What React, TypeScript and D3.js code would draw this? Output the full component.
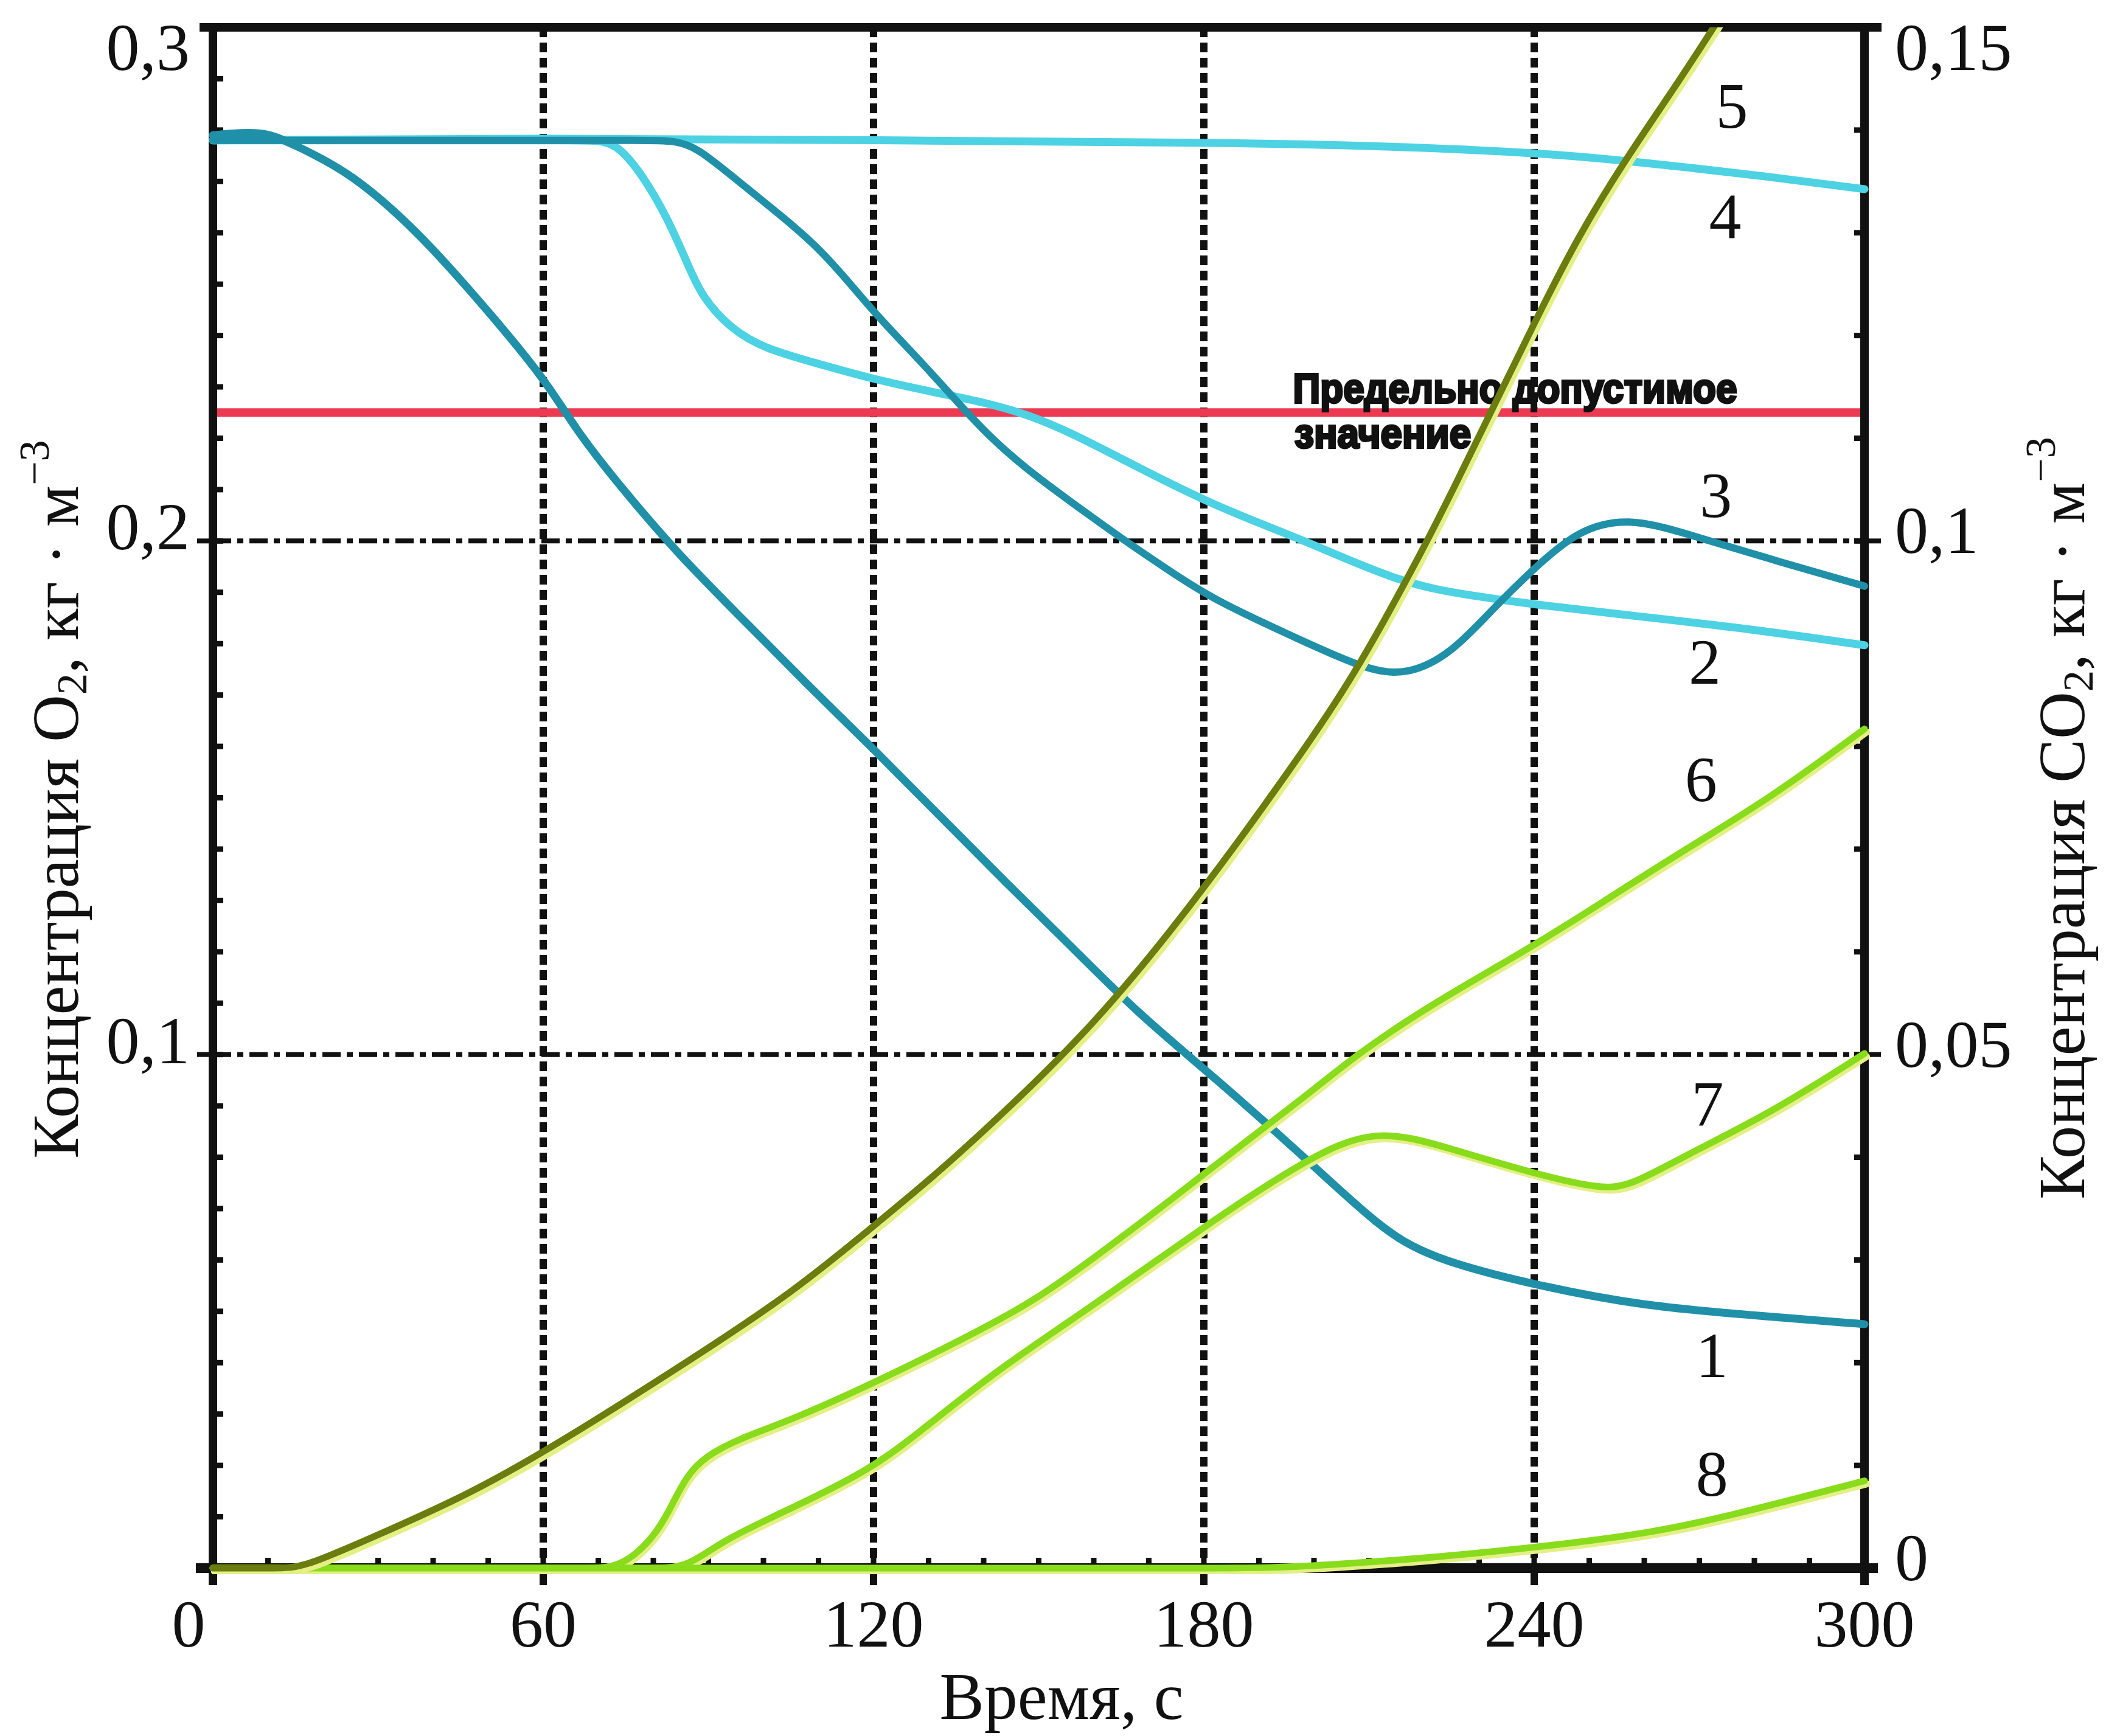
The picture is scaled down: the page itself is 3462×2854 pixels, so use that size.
import React, { useEffect } from 'react';
import * as d3 from 'd3';

const W = 3462;
const H = 2854;

// Time axis ticks (s)
const xMajorTicks = [0, 60, 120, 180, 240, 300];
const xMinorTicks = d3.range(0, 301, 10);
// Left axis (O2, kg/m3)
const yLeftLabels = [0.1, 0.2, 0.3];
const yLeftMinor = d3.range(0, 0.3001, 0.01);
// Right axis (CO2, kg/m3)
const yRightLabels = [0, 0.05, 0.1, 0.15];
const yRightMinor = d3.range(0, 0.1501, 0.01);

// O2 curves (left axis)
const curve1: [number, number][] = [
  [0, 0.279], [5, 0.2795], [10, 0.2795], [15, 0.277], [25, 0.2718], [37.5, 0.26], [49, 0.246],
  [60, 0.232], [66, 0.2215], [74, 0.2106], [84, 0.198], [96, 0.185], [108, 0.172], [120, 0.1595],
  [132, 0.1465], [144, 0.1335], [156, 0.121], [168, 0.108], [182, 0.0955], [198, 0.0803],
  [212, 0.0662], [221, 0.0604], [240, 0.0551], [260, 0.051], [279, 0.0493], [300, 0.0475],
];
const curve2: [number, number][] = [
  [0, 0.278], [50, 0.278], [66, 0.278], [71, 0.278], [74, 0.2765], [78, 0.2713], [82.5, 0.2631],
  [86.5, 0.2532], [89, 0.2473], [94, 0.2414], [100, 0.2375], [110, 0.2345], [119.5, 0.2316],
  [132, 0.2287], [148.5, 0.2252], [165, 0.216], [182, 0.2067], [198, 0.2003], [216, 0.1916],
  [229, 0.1893], [240, 0.1876], [260, 0.1852], [279, 0.1829], [300, 0.1797],
];
const curve3: [number, number][] = [
  [0, 0.278], [60, 0.278], [78, 0.278], [84, 0.278], [88, 0.2765], [94, 0.2713], [103.5, 0.2631],
  [110, 0.2571], [116, 0.2498], [121, 0.2434], [129, 0.2345], [135.5, 0.2267], [141.5, 0.2198],
  [148.5, 0.2134], [156, 0.2075], [165, 0.2005], [174, 0.194], [182, 0.1884], [198, 0.1805],
  [209.5, 0.1749], [217, 0.1738], [225, 0.1781], [232.5, 0.1868], [240, 0.1947], [248, 0.2022],
  [257, 0.2046], [267.5, 0.2015], [283, 0.1964], [300, 0.1912],
];
const curve4: [number, number][] = [
  [0, 0.278], [60, 0.2785], [120, 0.278], [182, 0.2776], [210, 0.277], [240, 0.2757],
  [260, 0.2737], [283, 0.2709], [300, 0.2685],
];
// CO2 curves (right axis)
const curve5: [number, number][] = [
  [0, 0], [8, 0], [13, 0], [17, 0.0002], [29, 0.003], [45, 0.0068], [60, 0.0112], [86, 0.02],
  [105, 0.0267], [120, 0.0333], [129.5, 0.0375], [140, 0.0425], [160, 0.0527], [180, 0.066],
  [200, 0.081], [208, 0.0876], [219, 0.0983], [226, 0.1058], [233, 0.1135], [240, 0.1212],
  [248, 0.1297], [257, 0.1375], [266, 0.1445], [275, 0.152],
];
const curve6: [number, number][] = [
  [0, 0], [50, 0], [68, 0], [74, 0], [80, 0.0029], [83, 0.0057], [86, 0.009], [89.5, 0.0109],
  [95.5, 0.0126], [105, 0.0144], [120, 0.018], [137, 0.0225], [149.5, 0.0261], [160, 0.0302],
  [170, 0.0342], [182, 0.0392], [190, 0.0425], [200, 0.0466], [208, 0.0501], [221, 0.0548],
  [240, 0.0606], [252, 0.0647], [267.5, 0.07], [283, 0.075], [300, 0.0817],
];
const curve7: [number, number][] = [
  [0, 0], [60, 0], [80, 0], [86, 0], [92.5, 0.0027], [105, 0.0058], [120, 0.0097], [130.5, 0.0142],
  [143, 0.0195], [160, 0.0256], [182, 0.034], [198, 0.0396], [211, 0.043], [225, 0.0408],
  [240, 0.0384], [252, 0.0369], [257.5, 0.0372], [267.5, 0.0402], [283, 0.0443], [300, 0.0501],
];
const curve8: [number, number][] = [
  [0, 0], [150, 0], [180, 0], [192, 0], [205, 0.0004], [221, 0.001], [240, 0.002], [260, 0.0033],
  [275, 0.005], [300, 0.0085],
];

// Limit value (left axis)
const limitO2 = 0.225;
const limitText = ['Предельно допустимое', 'значение'];

// Curve numbers: [label, time, O2-scale value]
const curveLabels: [string, number, number][] = [
  ['5', 275.9, 0.2805], ['4', 274.7, 0.259], ['3', 273, 0.2047], ['2', 271, 0.1722],
  ['6', 270.3, 0.1494], ['7', 271.5, 0.0861], ['1', 272.3, 0.0372], ['8', 272.3, 0.0141],
];

const SERIF = '"Liberation Serif", "Times New Roman", serif';
const SANS = '"Liberation Sans", Arial, sans-serif';

const DARK_TEAL = '#2090a8';
const LIGHT_CYAN = '#4cd2e3';
const OLIVE = '#6c7d10';
const GREEN = '#88dc1c';
const HALO = '#e4ef86';

export default function App() {
  useEffect(() => {
    document.body.style.margin = '0';
    document.body.style.overflow = 'hidden';
  }, []);

  const x = d3.scaleLinear().domain([0, 300]).range([350, 3065]);
  const yL = d3.scaleLinear().domain([0, 0.3]).range([2578, 45]);
  const yR = d3.scaleLinear().domain([0, 0.15]).range([2578, 45]);

  const lineL = d3.line<[number, number]>().x(d => x(d[0])).y(d => yL(d[1])).curve(d3.curveBasis);
  const lineR = d3.line<[number, number]>().x(d => x(d[0])).y(d => yR(d[1])).curve(d3.curveBasis);

  const fmt = (v: number) => d3.format('.2~f')(v).replace('.', ',');

  const x0 = x(0), x1 = x(300), yTop = yL(0.3), yBot = yL(0);

  return (
    <svg width={W} height={H} style={{ position: 'absolute', left: 0, top: 0, background: '#fff' }}
      xmlns="http://www.w3.org/2000/svg">
      <rect x={0} y={0} width={W} height={H} fill="#fff" />
      <defs>
        <clipPath id="plot">
          <rect x={x0 - 10} y={yTop} width={x1 - x0 + 20} height={yBot - yTop + 10} />
        </clipPath>
      </defs>

      {/* vertical grid */}
      {xMajorTicks.filter(t => t > 0 && t < 300).map(t => (
        <g key={'vg' + t}>
          <line x1={x(t)} x2={x(t)} y1={yTop} y2={yBot} stroke="#111" strokeWidth={12} strokeDasharray="16 9" />
          <line x1={x(t)} x2={x(t)} y1={yBot} y2={yBot + 28} stroke="#111" strokeWidth={12} />
        </g>
      ))}
      {/* horizontal grid */}
      {[0.1, 0.2].map(v => (
        <g key={'hg' + v}>
          <line x1={x0} x2={x1} y1={yL(v)} y2={yL(v)} stroke="#111" strokeWidth={8} strokeDasharray="30 10 10 10" />
          <line x1={x0 - 26} x2={x0} y1={yL(v)} y2={yL(v)} stroke="#111" strokeWidth={8} />
          <line x1={x1} x2={x1 + 27} y1={yL(v)} y2={yL(v)} stroke="#111" strokeWidth={8} />
        </g>
      ))}

      {/* limit line */}
      <line x1={x0} x2={x1} y1={yL(limitO2)} y2={yL(limitO2)} stroke="#ec3a52" strokeWidth={14} />
      <text fontFamily={SANS} fontWeight={900} fontSize={68} fill="#111" stroke="#111" strokeWidth={4}>
        <tspan x={x(196.2)} y={662} textLength={730} lengthAdjust="spacingAndGlyphs">{limitText[0]}</tspan>
      </text>
      <text fontFamily={SANS} fontWeight={900} fontSize={68} fill="#111" stroke="#111" strokeWidth={4}>
        <tspan x={x(196.5)} y={736} textLength={290} lengthAdjust="spacingAndGlyphs">{limitText[1]}</tspan>
      </text>

      {/* minor ticks */}
      {yLeftMinor.map((v, i) => (
        <line key={'lm' + i} x1={x0} x2={x0 + 17} y1={yL(v)} y2={yL(v)} stroke="#111" strokeWidth={9} />
      ))}
      {yRightMinor.map((v, i) => (
        <line key={'rm' + i} x1={x1} x2={x1 - 17} y1={yR(v)} y2={yR(v)} stroke="#111" strokeWidth={9} />
      ))}
      {xMinorTicks.map(t => (
        <line key={'bm' + t} x1={x(t)} x2={x(t)} y1={yBot} y2={yBot - 17} stroke="#111" strokeWidth={9} />
      ))}

      {/* frame */}
      <line x1={x0} x2={x0} y1={yTop - 7} y2={yBot + 28} stroke="#111" strokeWidth={14} />
      <line x1={x1} x2={x1} y1={yTop - 7} y2={yBot + 28} stroke="#111" strokeWidth={14} />
      <line x1={x0 - 22} x2={x1 + 28} y1={yTop} y2={yTop} stroke="#111" strokeWidth={14} />
      <line x1={x0 - 28} x2={x1 + 22} y1={yBot} y2={yBot} stroke="#111" strokeWidth={16} />

      {/* curves */}
      <g clipPath="url(#plot)" fill="none" strokeLinejoin="round" strokeLinecap="round">
        <path d={lineL(curve4) || ''} stroke={LIGHT_CYAN} strokeWidth={13} />
        <path d={lineL(curve2) || ''} stroke={LIGHT_CYAN} strokeWidth={13} />
        <path d={lineL(curve3) || ''} stroke={DARK_TEAL} strokeWidth={12} />
        <path d={lineL(curve1) || ''} stroke={DARK_TEAL} strokeWidth={13} />
        {[curve6, curve7, curve8].map((c, i) => (
          <g key={'g' + i}>
            <path d={lineR(c) || ''} stroke={HALO} strokeWidth={12} transform="translate(3,5)" />
            <path d={lineR(c) || ''} stroke={GREEN} strokeWidth={11} />
          </g>
        ))}
        <path d={lineR(curve5) || ''} stroke={HALO} strokeWidth={14} transform="translate(4,5)" />
        <path d={lineR(curve5) || ''} stroke={OLIVE} strokeWidth={11} />
      </g>

      {/* curve numbers */}
      {curveLabels.map(([s, t, v]) => (
        <text key={'cl' + s} x={x(t)} y={yL(v)} fontFamily={SERIF} fontSize={106} textAnchor="middle" fill="#111">{s}</text>
      ))}

      {/* tick labels */}
      {xMajorTicks.map(t => (
        <text key={'xt' + t} x={x(t) + (t === 0 ? -40 : 0)} y={2707} fontFamily={SERIF} fontSize={110}
          textAnchor="middle" fill="#111">{t}</text>
      ))}
      {yLeftLabels.map(v => (
        <text key={'yl' + v} x={x0 - 38} y={Math.max(yL(v) + 14, 115)} fontFamily={SERIF} fontSize={110}
          textAnchor="end" fill="#111">{fmt(v)}</text>
      ))}
      {yRightLabels.map(v => (
        <text key={'yr' + v} x={x1 + 50} y={Math.max(yR(v) + 20, 115)} fontFamily={SERIF} fontSize={110}
          textAnchor="start" fill="#111">{fmt(v)}</text>
      ))}

      {/* axis titles */}
      <text x={1745} y={2826} fontFamily={SERIF} fontSize={110} textAnchor="middle" fill="#111">Время, с</text>
      <text transform="translate(128,1314) rotate(-90)" fontFamily={SERIF} fontSize={108} textAnchor="middle" fill="#111">
        Концентрация O<tspan fontSize={70} dy={14}>2</tspan><tspan dy={-14}>, кг · м</tspan><tspan fontSize={70} dy={-48}>−3</tspan>
      </text>
      <text transform="translate(3426,1345) rotate(-90)" fontFamily={SERIF} fontSize={108} textAnchor="middle" fill="#111">
        Концентрация CO<tspan fontSize={70} dy={14}>2</tspan><tspan dy={-14}>, кг · м</tspan><tspan fontSize={70} dy={-48}>−3</tspan>
      </text>
    </svg>
  );
}
